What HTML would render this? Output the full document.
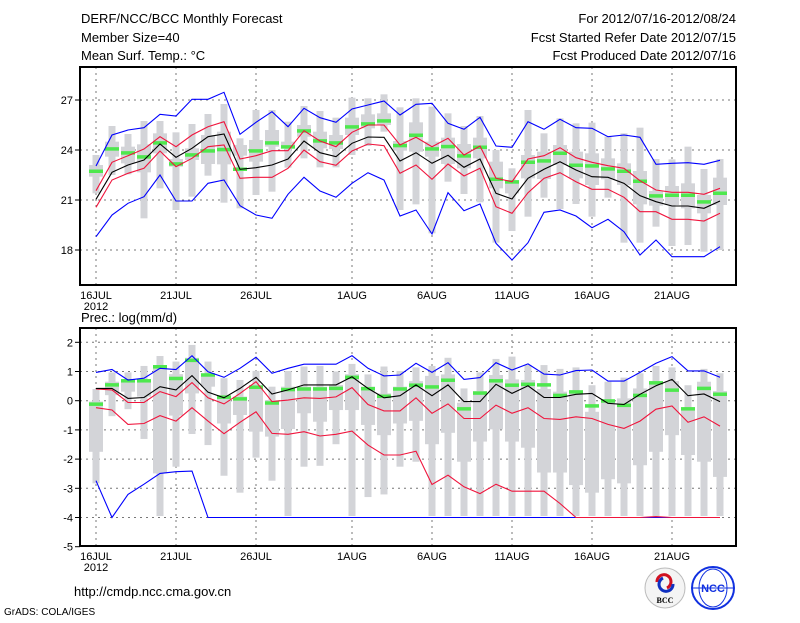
<!DOCTYPE html>
<html><head><meta charset="utf-8"><style>
html,body{margin:0;padding:0;background:#fff;}
svg text{font-family:"Liberation Sans",sans-serif;fill:#000;}
</style></head><body>
<svg id="chart" width="800" height="618" viewBox="0 0 800 618" xmlns="http://www.w3.org/2000/svg">
<g font-size="13">
<text x="81" y="23">DERF/NCC/BCC Monthly Forecast</text>
<text x="81" y="42">Member Size=40</text>
<text x="81" y="60">Mean Surf. Temp.: °C</text>
<text x="736" y="23" text-anchor="end">For 2012/07/16-2012/08/24</text>
<text x="736" y="42" text-anchor="end">Fcst Started Refer Date 2012/07/15</text>
<text x="736" y="60" text-anchor="end">Fcst Produced Date 2012/07/16</text>
<text x="81" y="322">Prec.: log(mm/d)</text>
<text x="74" y="596">http://cmdp.ncc.cma.gov.cn</text>
<text x="4" y="615" font-size="10">GrADS: COLA/IGES</text>
</g>
<g id="top"></g>
<g id="bot"></g>
<g>
<g>
<circle cx="665" cy="588" r="20" fill="#f4f4f4" stroke="#bbb"/>
<path d="M657 582 a7 7 0 1 1 10 6" fill="none" stroke="#d01020" stroke-width="3"/>
<path d="M673 584 a7 7 0 1 1 -10 -6" fill="none" stroke="#1030c0" stroke-width="3"/>
<text x="665" y="603" font-size="8" text-anchor="middle" font-weight="bold" style="font-family:'Liberation Serif',serif">BCC</text>
</g>
<g>
<circle cx="713" cy="588" r="21" fill="#fff" stroke="#1030e0" stroke-width="2"/>
<ellipse cx="713" cy="588" rx="14" ry="19" fill="none" stroke="#1030e0"/>
<line x1="692" y1="588" x2="734" y2="588" stroke="#1030e0"/>
<text x="713" y="592" font-size="11" text-anchor="middle" font-weight="bold" fill="#1030e0" style="fill:#1030e0">NCC</text>
</g>
</g>
</svg>
<script>
// ---- data (Jul 16 .. Aug 24, 40 days) ----
const dateLabels = ["16JUL","21JUL","26JUL","1AUG","6AUG","11AUG","16AUG","21AUG"];
const dateDays = [0,5,10,16,21,26,31,36];
const tempTicks = [27,24,21,18];
const precTicks = [2,1,0,-1,-2,-3,-4,-5];

const tempMean = [21.04,22.66,23.1,23.4,24.36,23.56,24.1,24.8,24.96,22.84,22.94,23.1,23.46,24.54,23.84,23.6,24.4,24.78,24.76,23.34,23.84,23.2,23.68,22.96,23.46,21.4,21.06,22.3,22.84,23.3,22.8,22.4,22.36,22.0,21.26,20.9,20.64,20.64,20.5,20.94];
const tempRedHi = [21.56,23.26,23.66,24.06,24.8,24.2,24.9,25.4,25.7,23.46,23.66,23.96,23.96,25.16,24.54,24.2,25.06,25.5,25.5,24.3,24.76,24.2,24.7,23.7,24.24,22.3,22.1,23.46,23.66,24.14,23.54,23.26,23.06,22.9,22.16,21.6,21.46,21.46,21.34,21.7];
const tempRedLo = [20.56,22.2,22.6,22.9,23.94,23.0,23.5,24.2,24.3,22.3,22.36,22.36,22.9,24.0,23.3,23.08,23.94,24.36,24.26,22.6,23.1,22.24,23.16,22.44,22.9,20.6,20.2,21.44,22.3,22.64,22.1,21.64,21.64,21.16,20.3,20.3,19.84,19.84,19.74,20.2];
const tempBlueHi = [23.04,24.9,25.2,25.34,26.14,26.04,27.04,27.04,27.46,24.94,25.66,26.3,25.4,26.5,25.94,25.66,26.46,26.7,26.94,26.1,26.74,26.8,25.6,25.24,25.96,24.24,24.16,25.7,25.24,25.84,25.34,25.3,24.8,24.9,24.76,23.14,23.2,23.24,23.14,23.38];
const tempBlueLo = [18.8,20.1,20.8,21.2,22.5,20.94,20.94,22.0,22.2,20.66,20.1,19.9,21.34,22.36,21.54,21.16,22.0,22.64,22.2,20.04,20.4,18.96,21.44,20.36,20.76,18.4,17.4,18.44,20.26,20.4,20.04,19.34,19.84,19.1,17.7,18.6,17.6,17.6,17.6,18.2];
const tempGreen = [22.74,24.08,23.84,23.6,24.44,23.18,23.72,23.96,24.04,22.86,23.96,24.44,24.2,25.16,24.56,24.44,25.4,25.58,25.76,24.28,24.9,24.08,24.22,23.66,24.18,22.26,22.1,23.28,23.36,23.82,23.1,23.06,22.88,22.74,22.14,21.26,21.3,21.3,20.9,21.42];
const tempBoxMax = [23.7,25.44,24.96,25.74,25.74,25.06,25.56,26.16,26.76,24.7,26.4,26.4,25.7,26.64,26.34,25.94,27.14,27.1,27.34,26.56,27.1,26.6,26.2,25.44,26.04,24.0,22.9,26.4,25.0,25.9,25.6,25.64,24.8,25.0,25.34,23.46,23.44,24.2,22.86,23.46];
const tempBoxMin = [21.4,22.5,22.54,19.9,21.7,20.4,21.2,22.46,20.84,20.5,21.3,21.5,22.94,23.5,22.96,22.96,23.7,24.24,25.1,20.4,20.74,19.0,22.1,21.36,20.86,18.44,19.14,20.0,21.14,20.46,20.76,20.0,21.14,18.44,18.44,19.4,18.24,18.3,17.9,18.0];
const tempBoxQ3 = [23.1,24.5,24.2,24.34,25.0,23.46,24.1,24.9,25.1,24.3,24.6,25.2,24.5,25.5,25.1,24.9,25.94,26.14,26.2,24.54,25.66,24.5,24.74,24.36,24.74,23.3,22.2,23.7,23.9,24.3,23.9,23.8,23.5,23.2,22.74,21.54,21.84,22.0,21.3,22.34];
const tempBoxQ1 = [22.4,23.6,23.2,22.66,23.8,23.0,23.4,23.16,23.14,23.66,23.3,24.2,24.1,24.8,24.1,24.06,24.9,25.3,25.5,23.96,23.9,23.6,23.16,22.9,23.5,21.7,21.4,22.3,22.26,23.1,22.3,21.9,22.24,21.9,20.74,20.66,20.7,20.5,20.2,20.7];

const precMean = [0.42,0.42,0.08,0.11,0.48,0.37,0.86,0.29,0.1,0.42,0.8,0.23,0.37,0.54,0.54,0.54,0.82,0.42,0.1,0.17,0.54,0.17,0.54,-0.03,-0.03,0.56,0.25,0.51,0.11,0.11,0.22,0.25,-0.09,-0.13,0.22,0.51,0.73,0.17,0.23,-0.03];
const precRedHi = [0.4,0.37,-0.06,-0.06,0.31,0.14,0.62,0.1,-0.11,0.25,0.65,-0.03,0.02,0.1,0.08,0.13,0.45,-0.13,-0.35,-0.35,0.1,-0.43,-0.11,-0.61,-0.61,-0.15,-0.43,-0.24,-0.61,-0.64,-0.55,-0.61,-0.81,-0.95,-0.7,-0.29,-0.18,-0.74,-0.55,-0.87];
const precRedLo = [-0.24,-0.32,-0.81,-0.78,-0.51,-0.7,-0.24,-0.7,-1.13,-0.74,-0.38,-1.12,-1.15,-1.06,-1.21,-1.15,-1.04,-1.52,-1.86,-1.86,-1.73,-2.87,-2.55,-2.95,-3.18,-2.86,-3.1,-3.1,-3.1,-3.52,-4,-4,-4,-4,-4,-3.97,-4,-4,-4,-4];
const precBlueHi = [0.97,1.07,0.71,0.77,1.11,1.07,1.54,0.99,0.8,1.11,1.49,0.94,1.11,1.25,1.25,1.25,1.54,1.11,0.85,0.88,1.28,0.97,1.3,0.73,0.79,1.3,1.05,1.26,0.91,0.88,1.03,1.05,0.67,0.67,0.97,1.28,1.51,1.02,1.02,0.8];
const precBlueLo = [-2.74,-4,-3.21,-2.86,-2.49,-2.43,-2.41,-4,-4,-4,-4,-4,-4,-4,-4,-4,-4,-4,-4,-4,-4,-4,-4,-4,-4,-4,-4,-4,-4,-4,-4,-4,-4,-4,-4,-4,-4,-4,-4,-4];
const precGreen = [-0.11,0.55,0.69,0.69,1.17,0.77,1.39,0.89,0.13,0.07,0.47,-0.07,0.39,0.41,0.41,0.43,0.81,0.42,0.16,0.41,0.54,0.48,0.71,-0.27,0.27,0.69,0.54,0.57,0.55,0.19,0.31,-0.17,0.0,-0.15,0.19,0.62,0.37,-0.27,0.43,0.23];
const precBoxMax = [0.4,0.97,0.97,1.19,1.53,1.34,1.91,1.34,0.77,0.71,1.02,0.48,1.02,1.17,1.19,1.0,1.26,0.9,1.17,1.02,1.14,1.19,1.47,0.42,0.97,1.43,1.51,1.22,1.22,1.09,1.14,0.53,0.65,0.79,0.94,1.19,1.14,0.53,1.09,0.94];
const precBoxMin = [-2.83,-0.53,-0.29,-1.31,-3.95,-2.26,-1.14,-1.52,-2.57,-3.15,-1.95,-2.74,-3.95,-2.26,-2.23,-1.49,-3.95,-3.3,-3.21,-2.26,-2.09,-3.95,-3.95,-3.95,-3.95,-3.95,-3.95,-3.95,-3.95,-3.95,-3.95,-3.95,-3.95,-3.95,-3.95,-3.95,-3.95,-3.95,-3.95,-3.95];
const precBoxQ3 = [-0.03,0.65,0.71,0.71,1.22,0.91,1.47,0.91,0.19,0.14,0.54,0.02,0.48,0.48,0.48,0.54,0.91,0.48,0.25,0.48,0.67,0.85,0.9,-0.07,0.33,0.88,0.73,0.71,0.4,0.31,0.33,-0.38,0.02,0.08,0.42,0.67,0.67,-0.32,0.65,0.33];
const precBoxQ1 = [-1.75,0.19,0.31,0.14,-2.49,-0.51,0.25,0.48,-0.78,-0.49,-1.06,-1.23,-0.97,-0.43,-0.72,-0.32,-0.32,-0.83,-1.18,-0.78,-0.69,-1.49,-1.1,-2.09,-1.4,-0.98,-1.4,-1.61,-2.46,-2.46,-2.89,-3.15,-2.69,-2.83,-2.21,-1.75,-1.18,-1.86,-2.09,-2.61];

// ---- axes ----
const NS = "http://www.w3.org/2000/svg";
const xS = d => 96 + 16 * d;
const yTop = v => 100 + (27 - v) * (50 / 3);
const yBot = v => 400.7 - v * 29.2;

function mk(parent, tag, attrs) {
  const e = document.createElementNS(NS, tag);
  for (const k in attrs) e.setAttribute(k, attrs[k]);
  parent.appendChild(e);
  return e;
}

function panel(g, top, bottom, yF, ticks, d) {
  // gridlines
  ticks.forEach(t => {
    const y = yF(t);
    if (y > top + 1 && y < bottom - 1) {
      const l = mk(g, "line", {x1:80, x2:736, y1:y, y2:y, stroke:"#777", "stroke-dasharray":"2,4"});
      
      
    }
    const tk = mk(g, "line", {x1:75, x2:80, y1:y, y2:y, stroke:"#000"});
    
    
    const tx = mk(g, "text", {x:73, y:y + 4, "text-anchor":"end", "font-size":"11"});
    tx.textContent = t;
    
    
  });
  dateDays.forEach((dd, i) => {
    const x = xS(dd);
    const l = mk(g, "line", {x1:x, x2:x, y1:top, y2:bottom, stroke:"#777", "stroke-dasharray":"2,4"});
    
    
    const tx = mk(g, "text", {x:x, y:bottom + 14, "text-anchor":"middle", "font-size":"11"});
    tx.textContent = dateLabels[i];
    
    
  });
  const yr = mk(g, "text", {x:xS(0), y:bottom + 25, "text-anchor":"middle", "font-size":"11"});
  yr.textContent = "2012";
  
  

  // boxes
  for (let i = 0; i < 40; i++) {
    const x = xS(i);
    const o = mk(g, "rect", {x:x - 3.5, width:7, y:yF(d.max[i]), height:yF(d.min[i]) - yF(d.max[i]), fill:"#d3d4d8"});
    
    
    const b = mk(g, "rect", {x:x - 7, width:14, y:yF(d.q3[i]), height:yF(d.q1[i]) - yF(d.q3[i]), fill:"#d3d4d8"});
    
    
  }
  for (let i = 0; i < 40; i++) {
    const m = mk(g, "rect", {x:xS(i) - 7, width:14, y:yF(d.green[i]) - 1.5, height:3.5, fill:"#4ee84e"});
    
    
  }
  const line = (arr, col, name) => {
    const p = mk(g, "polyline", {points: arr.map((v, i) => xS(i) + "," + yF(v).toFixed(1)).join(" "), fill:"none", stroke:col, "stroke-width":"1.1"});
    
    
  };
  line(d.blo, "#0000ff", "blue-lower-line");
  line(d.bhi, "#0000ff", "blue-upper-line");
  line(d.rlo, "#f0143c", "red-lower-line");
  line(d.rhi, "#f0143c", "red-upper-line");
  line(d.mean, "#000", "mean-line");
  const fr = mk(g, "rect", {x:80, y:top, width:656, height:bottom - top, fill:"none", stroke:"#000", "stroke-width":"2"});
  
  
}

panel(document.getElementById("top"), 67, 285, yTop, tempTicks, {
  max:tempBoxMax, min:tempBoxMin, q3:tempBoxQ3, q1:tempBoxQ1, green:tempGreen,
  mean:tempMean, rhi:tempRedHi, rlo:tempRedLo, bhi:tempBlueHi, blo:tempBlueLo});
panel(document.getElementById("bot"), 328, 546, yBot, precTicks, {
  max:precBoxMax, min:precBoxMin, q3:precBoxQ3, q1:precBoxQ1, green:precGreen,
  mean:precMean, rhi:precRedHi, rlo:precRedLo, bhi:precBlueHi, blo:precBlueLo});
</script>
</body></html>
